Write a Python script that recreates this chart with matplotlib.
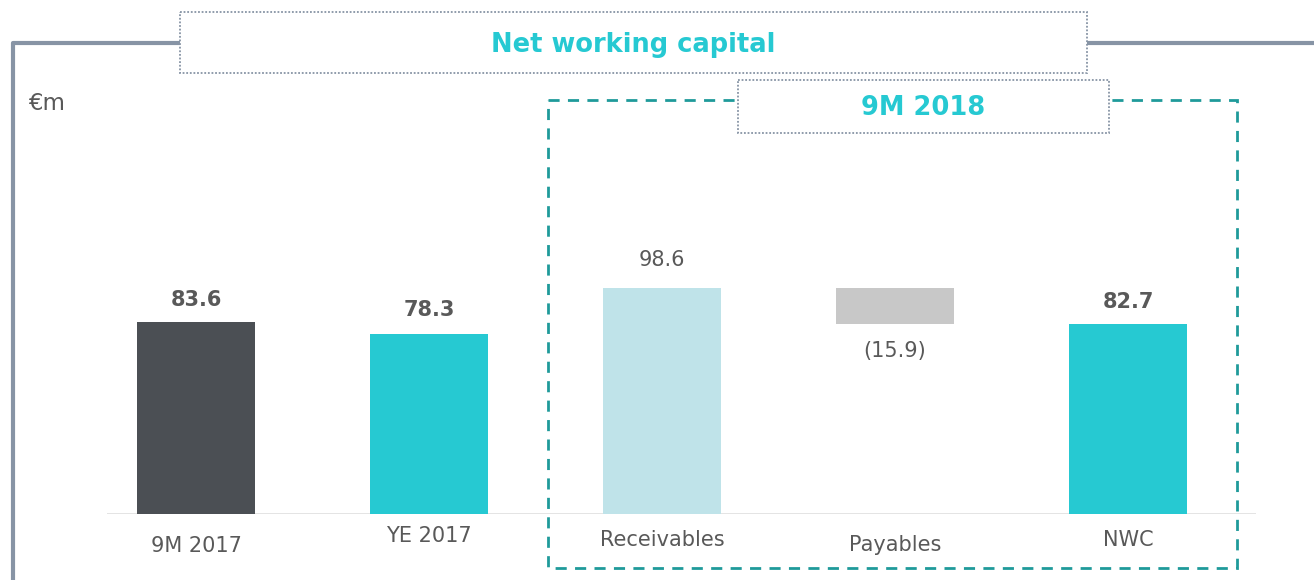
import numpy as np
import matplotlib
matplotlib.use("Agg")
import matplotlib.pyplot as plt
from matplotlib.patches import Rectangle

# data
categories = ['9M 2017', 'YE 2017', 'Receivables', 'Payables', 'NWC']
values = [83.6, 78.3, 98.6, -15.9, 82.7]
labels = ['83.6', '78.3', '98.6', '(15.9)', '82.7']
bold_label = [True, True, False, False, True]

W, H = 1314, 580
TEAL = '#26c9d2'
GREY_TXT = '#595959'
FRAME = '#8794a5'

fig = plt.figure(figsize=(W / 100, H / 100), dpi=100)

# bar axes: baseline at 514px from top, 2.297 px per unit
px_per_unit = 2.297
ax = fig.add_axes([107 / W, 66 / H, 1149 / W, 514 / H])
ax.set_xlim(-0.382, 4.549)
ax.set_ylim(0, 514 / px_per_unit)
ax.axis('off')

x = np.arange(len(categories))
bottoms = [0, 0, 0, values[2] + values[3], 0]
heights = [values[0], values[1], values[2], -values[3], values[4]]
colors = ['#4b4f54', TEAL, '#bfe3e9', '#c8c8c8', TEAL]
ax.bar(x, heights, bottom=bottoms, width=0.506, color=colors, zorder=2)
ax.axhline(0, color='#dcdcdc', lw=1.8, zorder=1)

# value labels
offsets = [22, 24, 28, -27, 22]
for i in range(len(x)):
    top = bottoms[i] + heights[i]
    y = top if offsets[i] > 0 else bottoms[i]
    ax.annotate(labels[i], (x[i], y), xytext=(0, offsets[i]),
                textcoords='offset pixels', ha='center', va='center',
                fontsize=15, color=GREY_TXT,
                fontweight='bold' if bold_label[i] else 'normal')

# category labels (each sits at its own height in the original)
cat_y = [546, 536, 540, 545, 540]
for i, c in enumerate(categories):
    ax.text(x[i], (514 - cat_y[i]) / px_per_unit, c, ha='center', va='center',
            fontsize=15, color=GREY_TXT, clip_on=False)

# decoration layer in pixel coordinates
deco = fig.add_axes([0, 0, 1, 1], facecolor='none')
deco.set_xlim(0, W)
deco.set_ylim(H, 0)
deco.axis('off')

deco.plot([13, 13, 180], [H, 43, 43], color=FRAME, lw=3, solid_capstyle='butt')
deco.plot([1087, W], [43, 43], color=FRAME, lw=3, solid_capstyle='butt')

deco.add_patch(Rectangle((180, 12), 907, 61, fill=False, ec=FRAME,
                         ls=(0, (1, 1)), lw=1.3))
deco.text(633, 45, 'Net working capital', ha='center', va='center',
          fontsize=18.5, fontweight='bold', color=TEAL)

deco.text(28, 104, '€m', ha='left', va='center', fontsize=16.5, color=GREY_TXT)

deco.add_patch(Rectangle((548, 100), 689, 468, fill=False, ec='#1f9a9a',
                         ls=(0, (4, 3)), lw=2))
deco.add_patch(Rectangle((738, 80), 371, 53, fill='white', fc='white',
                         ec=FRAME, ls=(0, (1, 1)), lw=1.3))
deco.text(923, 108, '9M 2018', ha='center', va='center',
          fontsize=18.5, fontweight='bold', color=TEAL)

fig.savefig('out.png', dpi=100)
